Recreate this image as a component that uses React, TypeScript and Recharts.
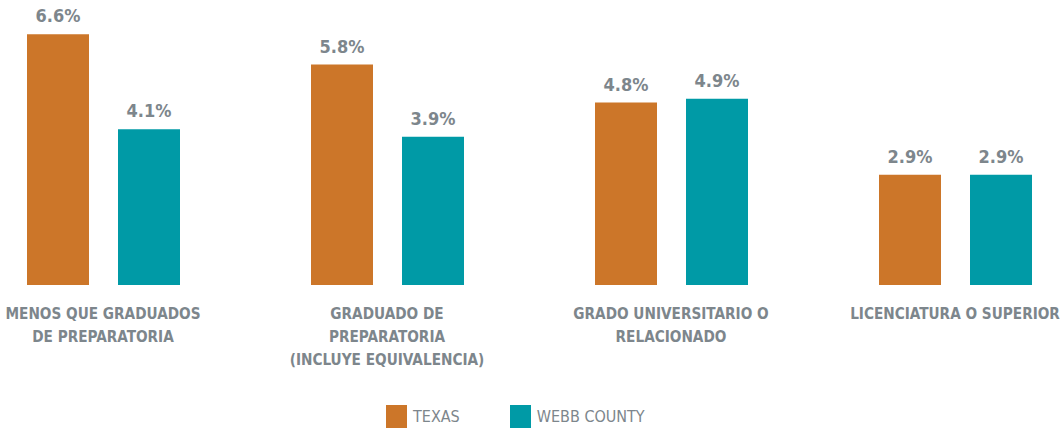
import { Bar, BarChart, LabelList, XAxis, YAxis } from 'recharts'

const CATEGORIES = [
  'MENOS QUE GRADUADOS|DE PREPARATORIA',
  'GRADUADO DE|PREPARATORIA|(INCLUYE EQUIVALENCIA)',
  'GRADO UNIVERSITARIO O|RELACIONADO',
  'LICENCIATURA O SUPERIOR',
]
const TEXAS = [6.6, 5.8, 4.8, 2.9]
const WEBB = [4.1, 3.9, 4.9, 2.9]
const SERIES = [
  { key: 'texas', label: 'TEXAS', color: '#cc7629' },
  { key: 'webb', label: 'WEBB COUNTY', color: '#009aa6' },
]

const GRAY = '#7d868c'
const FONT = '"Liberation Sans Narrow", "DejaVu Sans Condensed", "Roboto", sans-serif'

const data = CATEGORIES.map((c, i) => ({ name: c, texas: TEXAS[i], webb: WEBB[i] }))

function CatTick({ x, y, payload }: any) {
  const lines = String(payload.value).split('|')
  return (
    <text x={x} y={y} textAnchor="middle" fill={GRAY} fontSize={15.2} fontWeight="bold" fontFamily={FONT}>
      {lines.map((l, i) => (
        <tspan key={i} x={x} dy={i === 0 ? 26 : 23}>
          {l}
        </tspan>
      ))}
    </text>
  )
}

const pct = (v: number) => `${v.toFixed(1)}%`

export default function App() {
  return (
    <div style={{ position: 'absolute', left: 0, top: 0, width: 1060, height: 429, overflow: 'hidden', background: '#fff' }}>
      <div style={{ position: 'absolute', left: -39, top: 0 }}>
        <BarChart
          width={1136}
          height={429}
          data={data}
          margin={{ top: 19, right: 0, bottom: 44, left: 0 }}
          barSize={62}
          barGap={29}
        >
          <XAxis dataKey="name" axisLine={false} tickLine={false} tick={<CatTick />} height={100} interval={0} />
          <YAxis hide domain={[0, 7]} />
          {SERIES.map((s) => (
            <Bar key={s.key} dataKey={s.key} name={s.label} fill={s.color} isAnimationActive={false}>
              <LabelList dataKey={s.key} position="top" offset={12} formatter={pct} fill={GRAY} fontSize={18} fontWeight="bold" fontFamily={FONT} />
            </Bar>
          ))}
        </BarChart>
      </div>
      <div style={{ position: 'absolute', left: 386, top: 405, display: 'flex', gap: 50, fontFamily: FONT }}>
        {SERIES.map((s) => (
          <div key={s.key} style={{ display: 'flex', alignItems: 'center' }}>
            <span style={{ width: 21, height: 23, background: s.color, display: 'inline-block', marginRight: 6 }} />
            <span style={{ color: GRAY, fontSize: 16 }}>{s.label}</span>
          </div>
        ))}
      </div>
    </div>
  )
}
